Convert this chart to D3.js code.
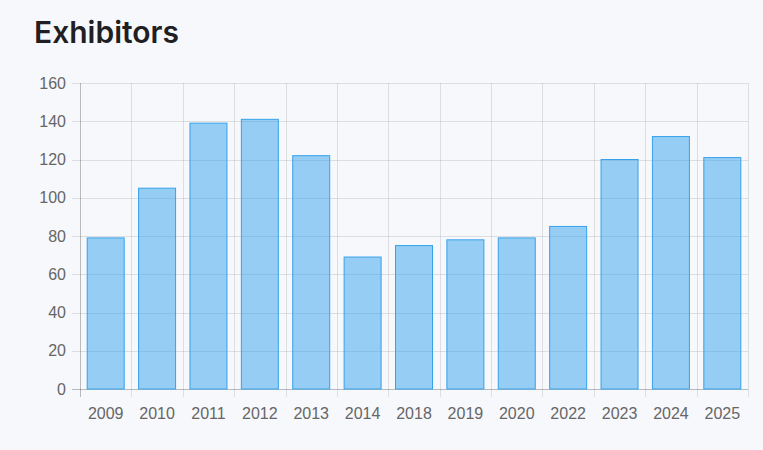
<!DOCTYPE html>
<html><head><meta charset="utf-8">
<script src="https://cdn.jsdelivr.net/npm/d3@7"></script>
<style>
html,body{margin:0;padding:0;background:#f7f8fc;}
svg{display:block;}
</style></head>
<body>
<svg id="c" width="763" height="450"></svg>
<script>
const categories = ["2009","2010","2011","2012","2013","2014","2018","2019","2020","2022","2023","2024","2025"];
const exhibitors = [79,105,139,141,122,69,75,78,79,85,120,132,121];
const yTicks = [0,20,40,60,80,100,120,140,160];

const svg = d3.select("#c");
const m = {left:80, right:748, top:83, bottom:389};
const x = d3.scaleBand().domain(categories).range([m.left, m.right]).paddingInner(0).paddingOuter(0);
const y = d3.scaleLinear().domain([0,160]).range([m.bottom, m.top]);

svg.append("text").attr("x",34).attr("y",43)
  .attr("font-family","Inter, 'Liberation Sans', Arial, sans-serif")
  .attr("font-weight","600").attr("font-size",30).attr("fill","#1f1f24")
  .text("Exhibitors");

const grid = svg.append("g");
grid.selectAll("line.h").data(yTicks).join("line")
  .attr("x1", m.left-8).attr("x2", m.right)
  .attr("y1", d=>Math.round(y(d))+0.5).attr("y2", d=>Math.round(y(d))+0.5)
  .attr("stroke", d=> d===0 ? "rgba(0,0,0,0.25)" : "rgba(0,0,0,0.1)").attr("stroke-width",1);
const vx = categories.map(c=>x(c)).concat([m.right]);
grid.selectAll("line.v").data(vx).join("line")
  .attr("x1", d=>Math.round(d)+0.5).attr("x2", d=>Math.round(d)+0.5)
  .attr("y1", m.top).attr("y2", m.bottom+8)
  .attr("stroke", (d,i)=> i===0 ? "rgba(0,0,0,0.25)" : "rgba(0,0,0,0.1)").attr("stroke-width",1);

const bw = x.bandwidth()*0.72;
svg.append("g").selectAll("rect").data(categories).join("rect")
  .attr("x", (c)=> x(c) + (x.bandwidth()-bw)/2)
  .attr("width", bw)
  .attr("y", (c,i)=> y(exhibitors[i]))
  .attr("height", (c,i)=> y(0)-y(exhibitors[i]))
  .attr("fill","rgba(54,162,235,0.5)")
  .attr("stroke","rgb(54,162,235)").attr("stroke-width",1);

svg.append("g").selectAll("text").data(yTicks).join("text")
  .attr("x", 66).attr("y", d=>y(d)).attr("dy","0.35em")
  .attr("text-anchor","end")
  .attr("font-family","'Liberation Sans', Arial, sans-serif").attr("font-size",16).attr("fill","#666")
  .text(d=>d);
svg.append("g").selectAll("text").data(categories).join("text")
  .attr("x", c=>x(c)+x.bandwidth()/2).attr("y", 419)
  .attr("text-anchor","middle")
  .attr("font-family","'Liberation Sans', Arial, sans-serif").attr("font-size",16).attr("fill","#666")
  .text(c=>c);
</script>
</body></html>
